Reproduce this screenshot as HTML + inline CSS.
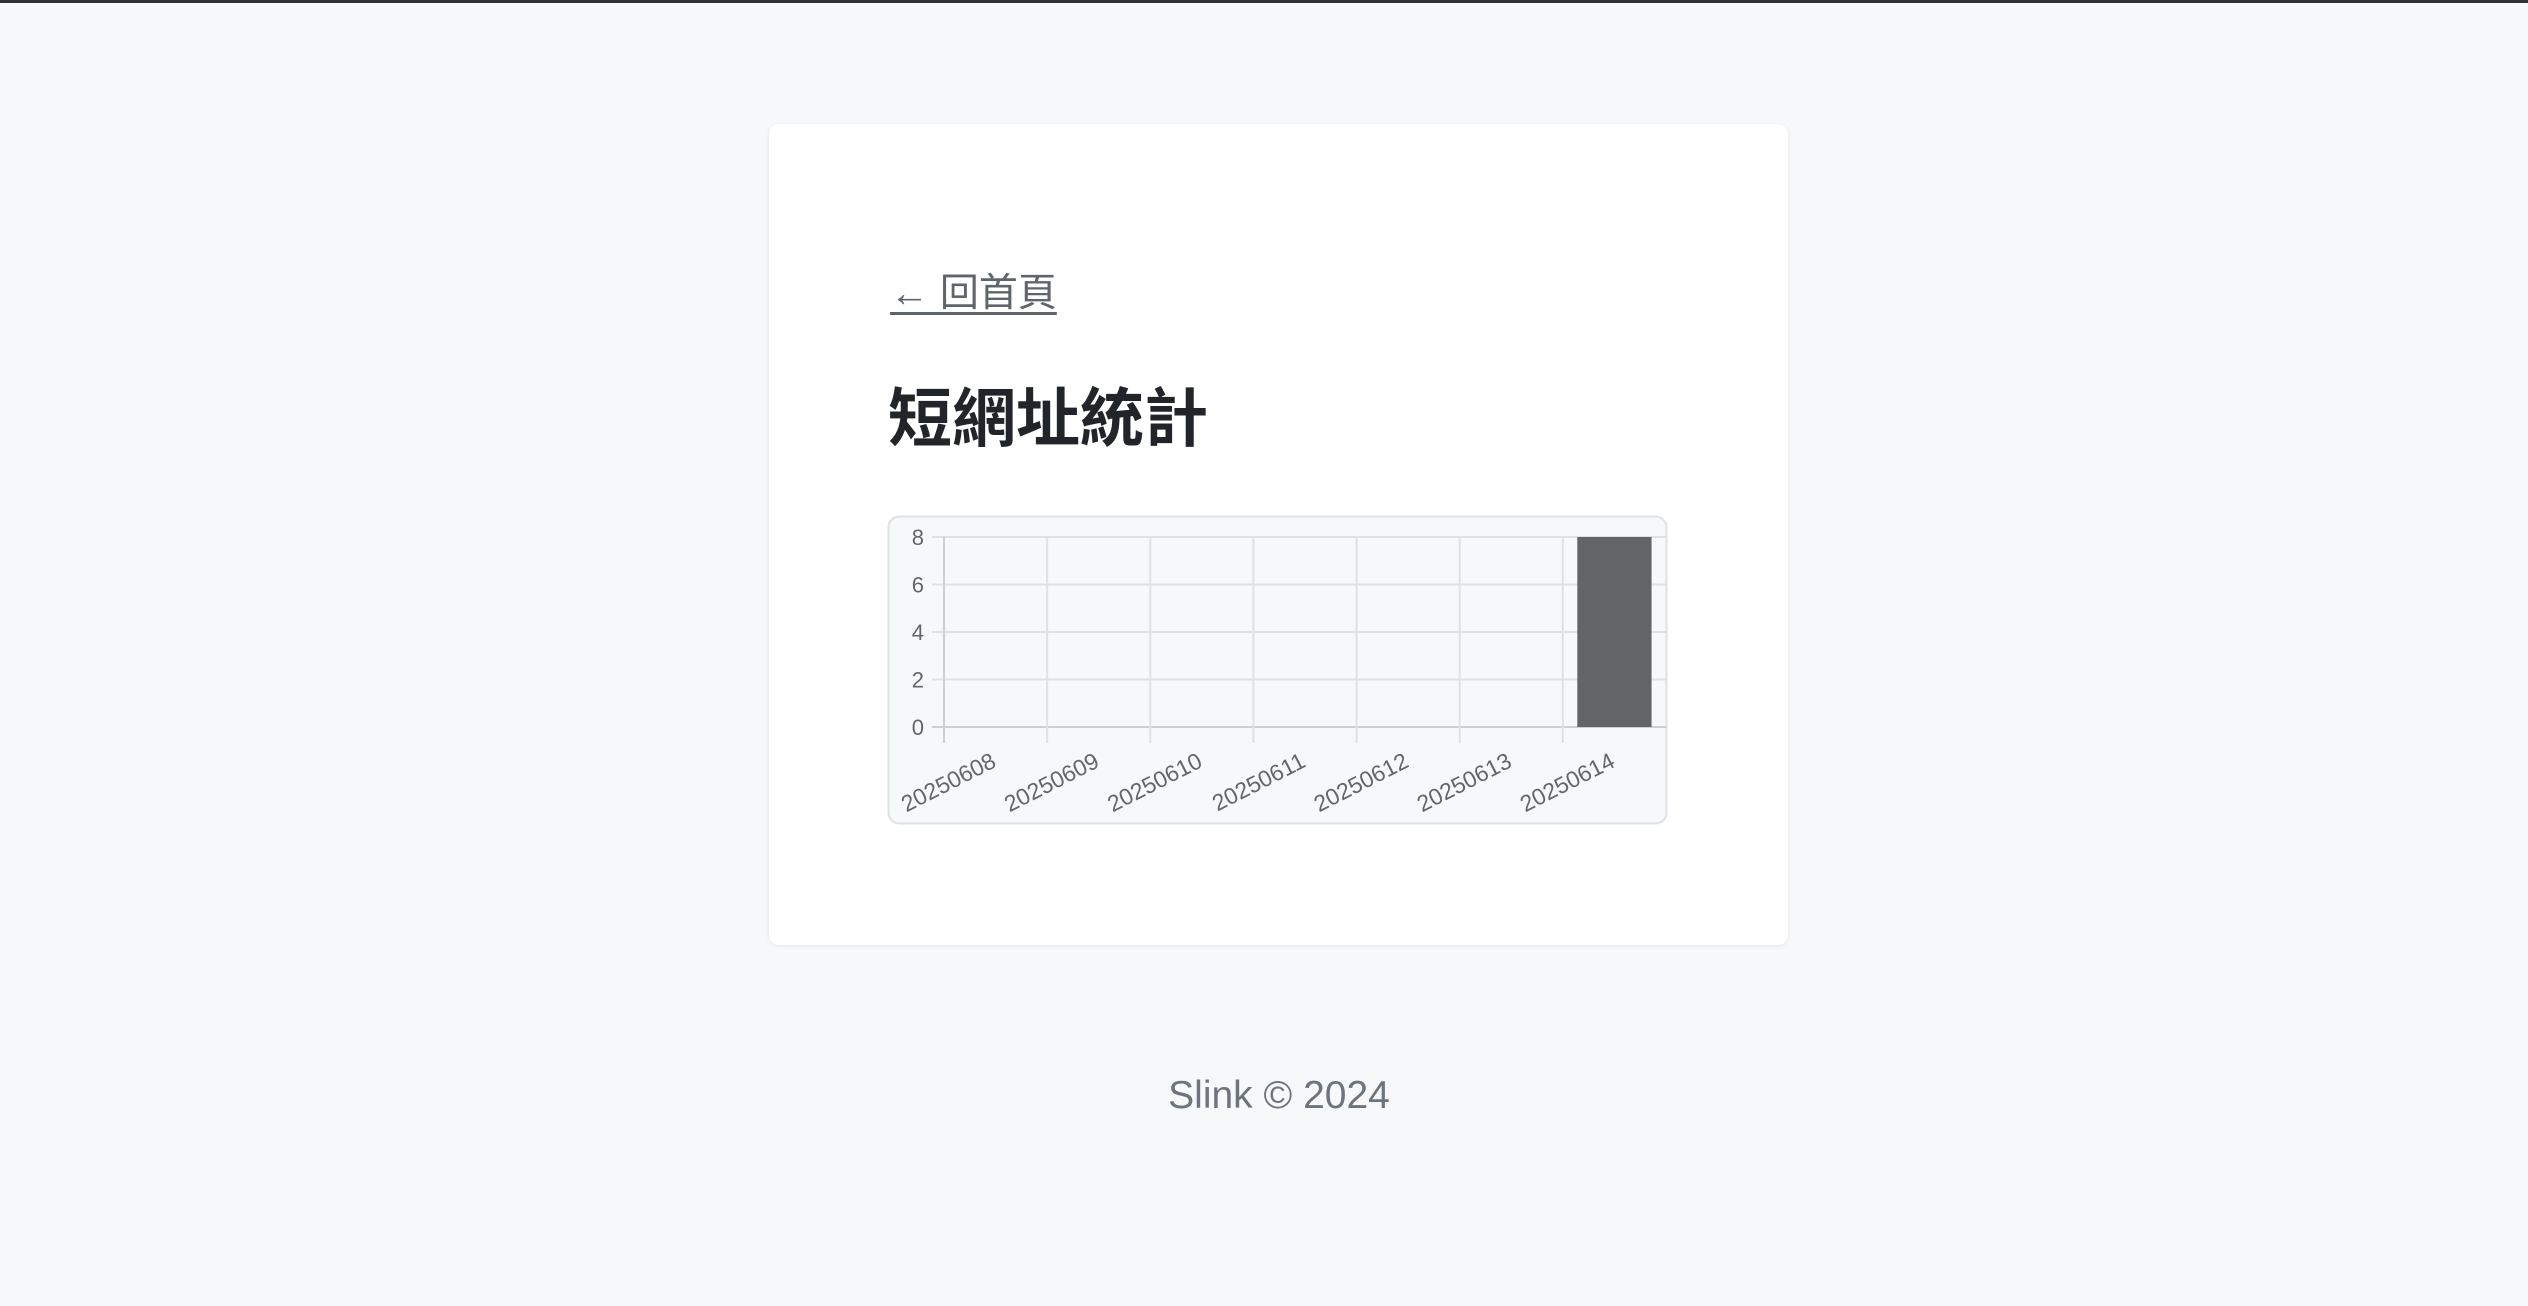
<!DOCTYPE html>
<html><head><meta charset="utf-8"><style>
html,body{margin:0;padding:0;}
body{width:2528px;height:1306px;background:#f7f8fa;position:relative;overflow:hidden;font-family:"Liberation Sans","Noto Sans CJK TC",sans-serif;}
.topbar{position:absolute;left:0;top:0;width:2528px;height:3px;background:#333;}
.card{position:absolute;left:769px;top:124px;width:1019px;height:821px;background:#fff;border-radius:10px;box-shadow:0 1px 4px rgba(0,0,0,0.08);}
.back{position:absolute;left:890px;top:271px;font-size:39px;color:#5f656c;text-decoration:underline;text-decoration-thickness:3px;text-underline-offset:6px;line-height:46px;}
h1{position:absolute;left:888px;top:381px;margin:0;font-size:64px;font-weight:bold;color:#212529;line-height:76px;}
.footer{position:absolute;left:15px;width:2528px;top:1074px;text-align:center;font-size:39px;color:#6c757d;}
</style></head><body>
<div class="topbar"></div>
<div class="card"></div>
<a class="back">← 回首頁</a>
<h1>短網址統計</h1>
<svg id="chart" style="position:absolute;left:0;top:0" width="2528" height="1306"></svg>
<div class="footer">Slink © 2024</div>
<script>
const categories=["20250608","20250609","20250610","20250611","20250612","20250613","20250614"];
const clicks=[0,0,0,0,0,0,8];
const yTicks=[0,2,4,6,8];
const NS="http://www.w3.org/2000/svg";
const svg=document.getElementById('chart');
const X0=944,X1=1666,Y0=727,Y1=537,YMAX=8;
const cw=(X1-X0)/categories.length;
function xs(i){return X0+i*cw;}
function ys(v){return Y0-(v/YMAX)*(Y0-Y1);}
function mk(t,a){const e=document.createElementNS(NS,t);for(const k in a)e.setAttribute(k,a[k]);svg.appendChild(e);return e;}
const box=mk('rect',{x:888.5,y:516.5,width:778,height:307,rx:11,fill:'#f7f8fa',stroke:'#dee2e6','stroke-width':2});


yTicks.forEach(v=>{
  const l=mk('line',{x1:X0-12,x2:X1,y1:ys(v),y2:ys(v),stroke:v===0?'#cfcfcf':'#e1e1e1','stroke-width':2});
  
  
  const t=mk('text',{x:X0-20,y:ys(v)+8,'text-anchor':'end','font-size':22,fill:'#666','font-family':'Liberation Sans, sans-serif'});
  t.textContent=v;
  
  
});
categories.forEach((c,i)=>{
  const l=mk('line',{x1:xs(i),x2:xs(i),y1:Y1,y2:Y0+16,stroke:i===0?'#cfcfcf':'#e1e1e1','stroke-width':2});
  
  
  const cx=xs(i)+cw/2;
  const t=mk('text',{x:cx+2,y:766,'text-anchor':'end','font-size':23,fill:'#666','font-family':'Liberation Sans, sans-serif',transform:`rotate(-27 ${cx+2} 766)`});
  t.textContent=c;
  
  
  const bw=cw*0.72;
  if(clicks[i]>0){
    const b=mk('rect',{x:cx-bw/2,y:ys(clicks[i]),width:bw,height:Y0-ys(clicks[i]),fill:'#626567'});
    
    
  }
});
</script>
</body></html>
